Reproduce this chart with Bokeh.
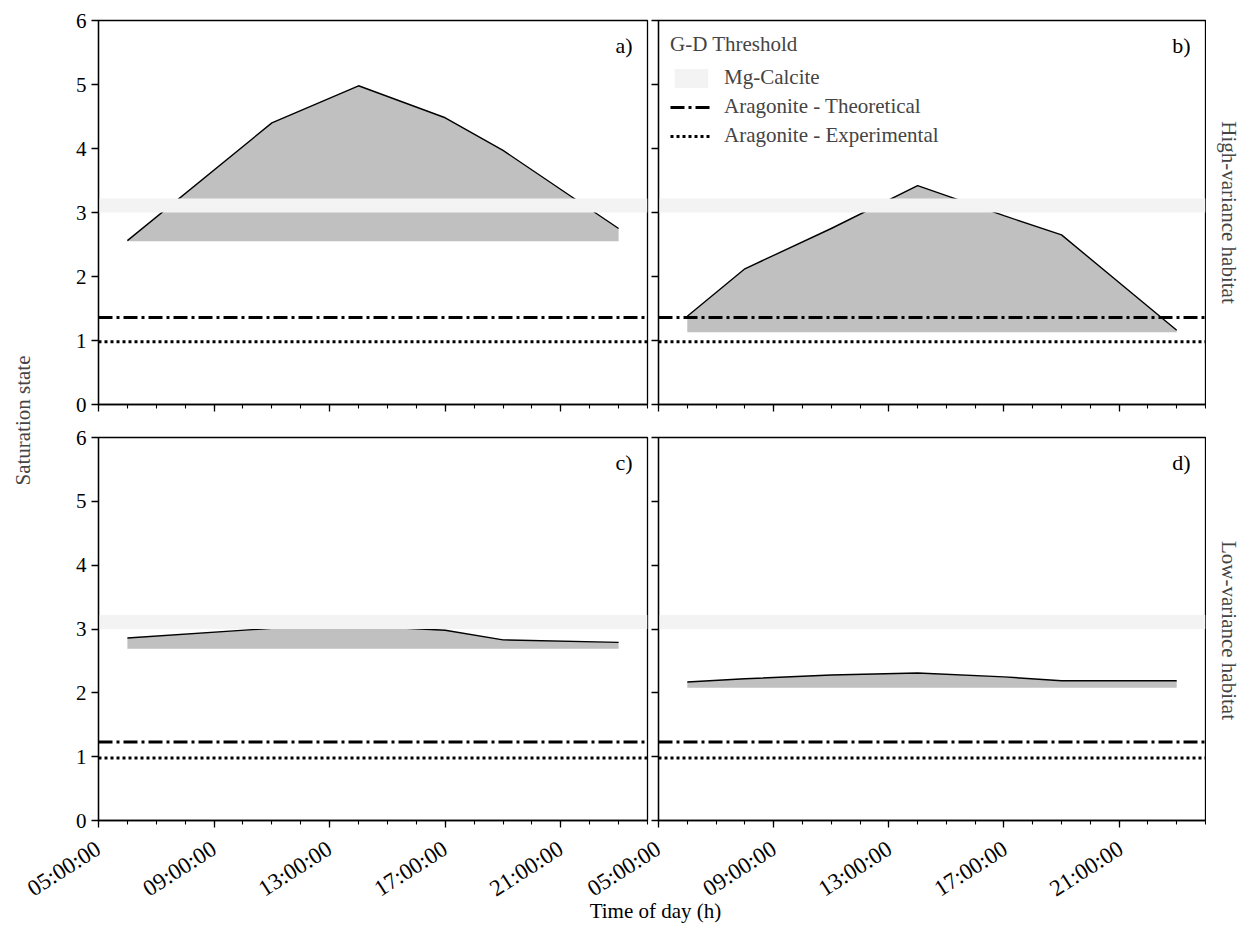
from math import pi
from bokeh.plotting import figure
from bokeh.models import (Range1d, FixedTicker, Label, Legend, LegendItem,
                          ColumnDataSource)
from bokeh.core.properties import value
from bokeh.layouts import row, column
from bokeh.embed import file_html
from bokeh.resources import INLINE

# ---------------- data ----------------
x_start, x_end = 5, 24                      # hours of day shown on each panel
major_hours = [5, 9, 13, 17, 21]
major_labels = ["05:00:00", "09:00:00", "13:00:00", "17:00:00", "21:00:00"]
minor_hours = list(range(5, 25))
y_ticks = [0, 1, 2, 3, 4, 5, 6]

# a) high-variance habitat, site 1
hours_a = [6, 11, 14, 17, 19, 23]
omega_a = [2.56, 4.40, 4.98, 4.48, 3.97, 2.75]
base_a = 2.55
# b) high-variance habitat, site 2
hours_b = [6, 8, 11, 14, 17, 19, 23]
omega_b = [1.38, 2.12, 2.75, 3.42, 2.95, 2.65, 1.16]
base_b = 1.13
# c) low-variance habitat, site 1
hours_c = [6, 11, 14, 17, 19, 23]
omega_c = [2.86, 3.01, 3.05, 2.98, 2.83, 2.79]
base_c = 2.69
# d) low-variance habitat, site 2
hours_d = [6, 8, 11, 14, 17, 19, 23]
omega_d = [2.17, 2.22, 2.28, 2.31, 2.25, 2.19, 2.19]
base_d = 2.08

# G-D thresholds
mg_calcite_low, mg_calcite_high = 3.0, 3.22
arag_theor_high, arag_theor_low = 1.36, 1.23
arag_exp_high, arag_exp_low = 0.98, 0.98

FONT = "Liberation Serif"

# layout constants (pixels)
W, H = 1249, 935
LEFT_W, RIGHT_W = 45, 43
A_BL, A_FW, A_BR = 53, 549, 3          # left-column panels
B_BL, B_FW, B_BR = 8, 547, 1           # right-column panels
TOP_H, BOT_H = 420, 412
GRID_H = TOP_H + BOT_H
LAB_H = H - GRID_H


def hide_labels(ax):
    ax.major_label_text_font_size = "0px"
    ax.major_label_text_alpha = 0
    ax.major_label_standoff = 0


def panel(w, h, bl, br, bt, bb, hours, omega, base, theo, expt, tag,
          show_y, with_legend=False):
    p = figure(width=w, height=h, x_range=Range1d(x_start, x_end),
               y_range=Range1d(0, 6), output_backend="svg",
               toolbar_location=None, title=None,
               min_border_left=bl, min_border_right=br,
               min_border_top=bt, min_border_bottom=bb)
    p.grid.visible = False
    p.outline_line_color = "black"
    p.outline_line_width = 1.3
    p.outline_line_alpha = 1
    p.background_fill_color = "white"

    src = ColumnDataSource(dict(x=hours, y=omega, base=[base] * len(hours)))
    p.varea(x="x", y1="base", y2="y", source=src, fill_color="#c0c0c0")
    p.line("x", "y", source=src, line_color="black", line_width=1.4)

    band_src = ColumnDataSource(dict(x=[x_start, x_end],
                                     lo=[mg_calcite_low] * 2,
                                     hi=[mg_calcite_high] * 2))
    band_r = p.varea(x="x", y1="lo", y2="hi", source=band_src,
                     fill_color="#f3f3f3")
    theo_r = p.line([x_start, x_end], [theo, theo], line_color="black",
                    line_width=3, line_dash="14 4 3 4")
    exp_r = p.line([x_start, x_end], [expt, expt], line_color="black",
                   line_width=3, line_dash="3 3")

    xa = p.xaxis[0]
    ya = p.yaxis[0]
    xa.ticker = FixedTicker(ticks=major_hours, minor_ticks=minor_hours)
    ya.ticker = FixedTicker(ticks=y_ticks, minor_ticks=[])
    for ax in (xa, ya):
        ax.axis_line_color = "black"
        ax.axis_line_width = 1.3
        ax.major_tick_line_color = "black"
        ax.major_tick_line_width = 1.3
        ax.minor_tick_line_color = "black"
        ax.minor_tick_line_width = 1.1
        ax.major_tick_in = 0
        ax.major_tick_out = 7
        ax.minor_tick_in = 0
        ax.major_label_text_font = FONT
        ax.major_label_text_color = "black"
    xa.minor_tick_out = 4
    ya.minor_tick_out = 0
    ya.major_label_text_font_size = "21px"
    ya.major_label_standoff = 5
    hide_labels(xa)          # time labels are drawn in the shared strip below
    if not show_y:
        hide_labels(ya)

    p.add_layout(Label(x=23.48, y=5.61, text=tag, text_align="right",
                       text_baseline="middle", text_font=FONT,
                       text_font_size="22px", text_color="black"))

    if with_legend:
        leg = Legend(items=[
            LegendItem(label="Mg-Calcite", renderers=[band_r]),
            LegendItem(label="Aragonite - Theoretical", renderers=[theo_r]),
            LegendItem(label="Aragonite - Experimental", renderers=[exp_r]),
        ], title="G-D Threshold", location="top_left")
        leg.title_text_font = FONT
        leg.title_text_font_size = "21px"
        leg.title_text_font_style = "normal"
        leg.title_standoff = 8
        leg.label_text_font = FONT
        leg.label_text_font_size = "21px"
        leg.background_fill_alpha = 0
        leg.border_line_color = None
        leg.glyph_width = 42
        leg.glyph_height = 24
        leg.label_height = 24
        leg.label_standoff = 12
        leg.spacing = 4
        leg.padding = 0
        leg.margin = 12
        p.add_layout(leg)
    return p


def strip(w, h):
    s = figure(width=w, height=h, x_range=Range1d(0, w), y_range=Range1d(0, h),
               output_backend="svg", toolbar_location=None, title=None,
               x_axis_location=None, y_axis_location=None, min_border=0)
    s.grid.visible = False
    s.outline_line_color = None
    return s


left = strip(LEFT_W, GRID_H)
left.add_layout(Label(x=22, y=GRID_H - 420, text="Saturation state",
                      angle=pi / 2, text_align="center", text_baseline="middle",
                      text_font=FONT, text_font_size="21px"))

right = strip(RIGHT_W, GRID_H)
right.add_layout(Label(x=22, y=GRID_H - 212, text="High-variance habitat",
                       angle=-pi / 2, text_align="center", text_baseline="middle",
                       text_font=FONT, text_font_size="21px"))
right.add_layout(Label(x=22, y=GRID_H - 630, text="Low-variance habitat",
                       angle=-pi / 2, text_align="center", text_baseline="middle",
                       text_font=FONT, text_font_size="21px"))

A_W = A_BL + A_FW + A_BR
B_W = B_BL + B_FW + B_BR
pa = panel(A_W, TOP_H, A_BL, A_BR, 20, 16, hours_a, omega_a, base_a,
           arag_theor_high, arag_exp_high, "a)", True)
pb = panel(B_W, TOP_H, B_BL, B_BR, 20, 16, hours_b, omega_b, base_b,
           arag_theor_high, arag_exp_high, "b)", False, with_legend=True)
pc = panel(A_W, BOT_H, A_BL, A_BR, 17, 12, hours_c, omega_c, base_c,
           arag_theor_low, arag_exp_low, "c)", True)
pd = panel(B_W, BOT_H, B_BL, B_BR, 17, 12, hours_d, omega_d, base_d,
           arag_theor_low, arag_exp_low, "d)", False)

# Full-width strip under the panels carrying the time-of-day labels.
# Its x scale is a continuous timeline in hours: panel c's hours, then
# panel d's hours shifted by the horizontal offset between the two panels.
px_per_hour = A_FW / (x_end - x_start)
strip_x0 = x_start - (LEFT_W + A_BL) / px_per_hour
d_offset = (A_FW + A_BR + B_BL) / px_per_hour
time_ticks = major_hours + [hh + d_offset for hh in major_hours]
time_labels = major_labels + major_labels

lab = figure(width=W, height=LAB_H,
             x_range=Range1d(strip_x0, strip_x0 + W / px_per_hour),
             y_range=Range1d(0, LAB_H), output_backend="svg",
             toolbar_location=None, title=None,
             x_axis_location=None, y_axis_location=None, min_border=0)
lab.grid.visible = False
lab.outline_line_color = None
tsrc = ColumnDataSource(dict(x=time_ticks, y=[H - 846] * len(time_ticks),
                             text=time_labels))
lab.text(x="x", y="y", text="text", source=tsrc, angle=0.57,
         text_align="right", text_baseline="middle", text_font=value(FONT),
         text_font_size="23px", text_color="black")
lab.add_layout(Label(x=strip_x0 + 655 / px_per_hour, y=H - 910,
                     text="Time of day (h)", text_align="center",
                     text_baseline="middle", text_font=FONT,
                     text_font_size="21px", text_color="black"))

layout = column(row(left, column(row(pa, pb), row(pc, pd)), right), lab)

open("out.html", "w").write(file_html(layout, INLINE))
